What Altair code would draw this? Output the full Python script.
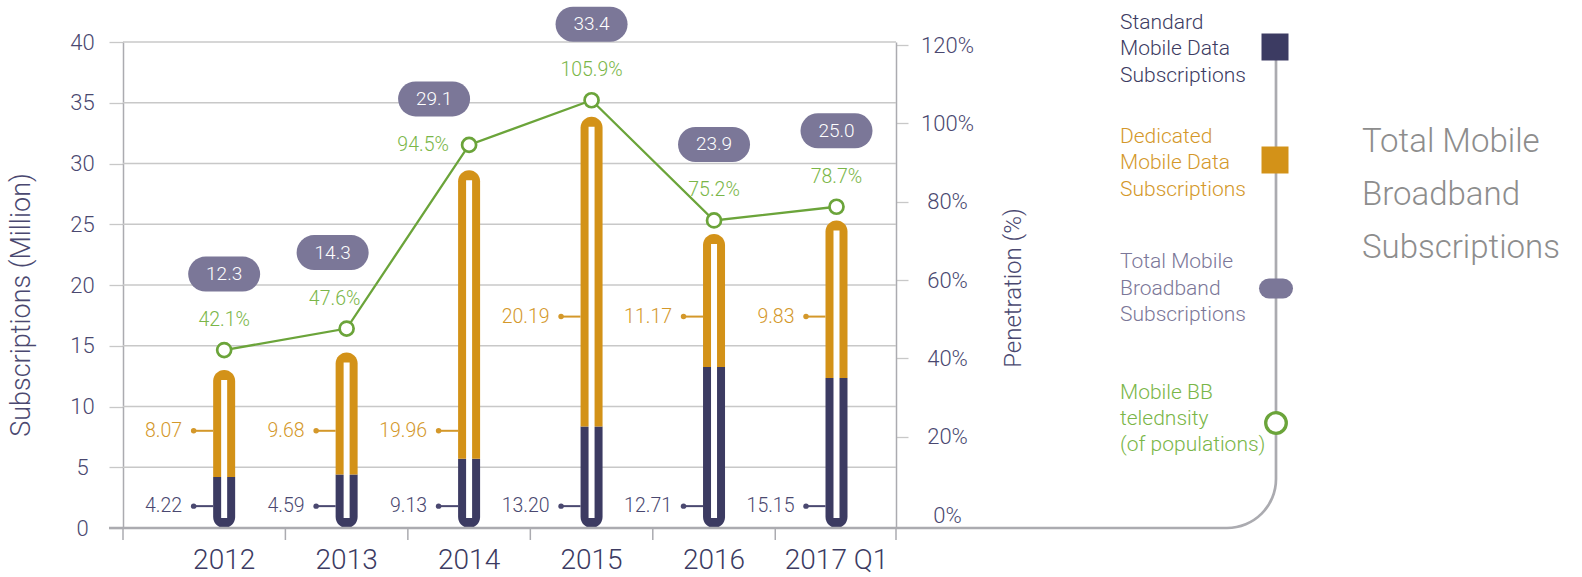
import math
import altair as alt
import pandas as pd

# ---------------- data ----------------
years = ["2012", "2013", "2014", "2015", "2016", "2017 Q1"]
standard = [4.22, 4.59, 9.13, 13.20, 12.71, 15.15]        # Standard mobile data subs (million)
dedicated = [8.07, 9.68, 19.96, 20.19, 11.17, 9.83]       # Dedicated mobile data subs (million)
total = [12.3, 14.3, 29.1, 33.4, 23.9, 25.0]              # Total mobile broadband subs (million)
penetration = [42.1, 47.6, 94.5, 105.9, 75.2, 78.7]       # Mobile BB teledensity (%)
# bar segments exactly as they are drawn in the picture (million)
drawn_split = [4.2, 4.4, 5.7, 8.35, 13.25, 12.35]
drawn_top = [13.0, 14.45, 29.45, 33.85, 24.2, 25.3]
# heights (million) at which the value call-outs sit
std_callout = [1.8, 1.8, 1.8, 1.8, 1.8, 1.8]
ded_callout = [8.0, 8.0, 8.0, 17.4, 17.4, 17.4]
left_ticks = [0, 5, 10, 15, 20, 25, 30, 35, 40]
right_ticks = [0, 20, 40, 60, 80, 100, 120]

legend_std = ["Standard", "Mobile Data", "Subscriptions"]
legend_ded = ["Dedicated", "Mobile Data", "Subscriptions"]
legend_tot = ["Total Mobile", "Broadband", "Subscriptions"]
legend_pen = ["Mobile BB", "telednsity", "(of populations)"]
big_title = ["Total Mobile", "Broadband", "Subscriptions"]

# ---------------- style / layout ----------------
FONT = "Roboto"
FW = 300
NAVY = "#3c3b62"
NAVY_TXT = "#4a4870"
ORANGE = "#d39218"
ORANGE_TXT = "#d4982a"
PILL = "#7b7798"
GREEN = "#6ba43a"
GREEN_TXT = "#7ab648"
GRID = "#c8c8c8"
AXIS_GRAY = "#ababb0"

LEFT, TOP, W, H = 123, 42, 1153, 486
X0, STEP = 220, 123.54          # pixel of first category, category step
AXR = 896 - LEFT                 # right axis position inside plot
xmin = -(X0 - LEFT) / STEP
xmax = (LEFT + W - X0) / STEP
# right scale: 0% at y=515, 120% at y=45 (page px)
r_px = (515 - 45) / 120.0
rmax = 120 + (45 - TOP) / r_px
rmin = -((TOP + H) - 515) / r_px

df = pd.DataFrame({
    "year": years,
    "idx": list(range(len(years))),
    "std": standard,
    "ded": dedicated,
    "total": total,
    "pct": penetration,
    "split": drawn_split,
    "top": drawn_top,
    "std_at": std_callout,
    "ded_at": ded_callout,
})
df["base"] = 0.0
df["pct_txt"] = [f"{v:.1f}%" for v in penetration]
df["tot_txt"] = [f"{v:.1f}" for v in total]

bounds = pd.DataFrame({"b": [i + 0.5 for i in range(len(years) - 1)]})
one = pd.DataFrame({"a": [0]})

xs = alt.Scale(domain=[xmin, xmax], nice=False, zero=False)
X = alt.X("idx:Q", scale=xs, axis=None)
yl = alt.Scale(domain=[0, 40], nice=False, zero=False)
yr = alt.Scale(domain=[rmin, rmax], nice=False, zero=False)

AX_L = alt.Axis(
    orient="left", values=left_ticks, title=None, grid=False,
    domain=True, domainColor=AXIS_GRAY, domainWidth=1.5,
    ticks=True, tickSize=14, tickColor=GRID, tickWidth=1.3,
    labelFontSize=22, labelColor=NAVY_TXT, labelAlign="center", labelFontWeight=FW,
    labelBaseline="middle", labelPadding=27, labelFont=FONT)
AX_R = alt.Axis(
    orient="right", offset=-(W - AXR), values=right_ticks, labelExpr="datum.value + '%'",
    title=None, grid=False, domain=True, domainColor=AXIS_GRAY, domainWidth=1.5,
    ticks=True, tickSize=12, tickColor=GRID, tickWidth=1.3,
    tickOpacity={"condition": {"test": "datum.value === 0", "value": 0}, "value": 1},
    labelFontSize=22, labelColor=NAVY_TXT, labelAlign="center", labelBaseline="middle",
    labelFontWeight=FW, labelPadding=39, labelFont=FONT)

def YL(field):
    return alt.Y(f"{field}:Q", scale=yl, axis=AX_L)

def YR(field):
    return alt.Y(f"{field}:Q", scale=yr, axis=AX_R)

base = alt.Chart(df)

# ---------------- left-scale group ----------------
grid = alt.Chart(pd.DataFrame({"v": left_ticks[1:]})).mark_rule(color=GRID, strokeWidth=1.3).encode(
    x=alt.value(0), x2=alt.value(AXR), y=YL("v"))

navy_bar = base.mark_bar(size=22, color=NAVY, cornerRadiusBottomLeft=11, cornerRadiusBottomRight=11).encode(
    x=X, y=YL("base"), y2="split:Q")
orange_bar = base.mark_bar(size=22, color=ORANGE, cornerRadiusTopLeft=11, cornerRadiusTopRight=11).encode(
    x=X, y=YL("split"), y2="top:Q")
stripe = base.mark_rule(color="white", strokeWidth=6, yOffset=-10, y2Offset=10).encode(
    x=X, y=YL("base"), y2="top:Q")

def callout(field, at, color):
    line = base.mark_rule(color=color, strokeWidth=2, xOffset=-30.5, x2Offset=-11).encode(
        x=X, x2="idx:Q", y=YL(at))
    dot = base.mark_circle(size=30, color=color, opacity=1, xOffset=-30.5).encode(x=X, y=YL(at))
    txt = base.mark_text(align="right", baseline="middle", dx=-42, fontSize=19.5, fontWeight=FW,
                         color=color).encode(
        x=X, y=YL(at), text=alt.Text(f"{field}:Q", format=".2f"))
    return [line, dot, txt]

cat_labels = base.mark_text(fontSize=28, fontWeight=FW, color=NAVY, baseline="middle").encode(
    x=X, y=alt.value(H + 33), text="year:N")

ticks_below = alt.Chart(bounds).mark_rule(color=AXIS_GRAY, strokeWidth=1.5).encode(
    x=alt.X("b:Q", scale=xs, axis=None), y=alt.value(H), y2=alt.value(H + 12))

deco = alt.Chart(one)
left_ext = deco.mark_rule(color=AXIS_GRAY, strokeWidth=1.5).encode(
    x=alt.value(0), y=alt.value(H), y2=alt.value(H + 12))
right_ext = deco.mark_rule(color=AXIS_GRAY, strokeWidth=1.5).encode(
    x=alt.value(AXR), y=alt.value(H), y2=alt.value(H + 12))
baseline = deco.mark_rule(color=AXIS_GRAY, strokeWidth=2.7).encode(
    x=alt.value(-14), x2=alt.value(W - 49), y=alt.value(H))
corner = deco.mark_arc(radius=50.35, radius2=47.65, theta=math.pi / 2, theta2=math.pi, color=AXIS_GRAY).encode(
    x=alt.value(W - 49), y=alt.value(H - 49))
vline = deco.mark_rule(color=AXIS_GRAY, strokeWidth=2.7).encode(
    x=alt.value(W), y=alt.value(5), y2=alt.value(H - 49))

sw_std = deco.mark_square(size=729, color=NAVY, opacity=1).encode(x=alt.value(W - 1), y=alt.value(5))
sw_ded = deco.mark_square(size=729, color=ORANGE, opacity=1).encode(x=alt.value(W - 1), y=alt.value(118))
sw_tot = deco.mark_rule(color=PILL, strokeWidth=20, strokeCap="round").encode(
    x=alt.value(W - 7), x2=alt.value(W + 7), y=alt.value(246.5))
sw_pen = deco.mark_point(shape="circle", size=424, fill="white", stroke=GREEN, strokeWidth=3.3,
                         opacity=1, fillOpacity=1).encode(x=alt.value(W), y=alt.value(381))

def legend_text(lines, y, color):
    return deco.mark_text(align="left", baseline="middle", lineHeight=26.3, fontSize=21,
                          fontWeight=FW, color=color).encode(
        x=alt.value(997), y=alt.value(y), text=alt.value(lines))

lt1 = legend_text(legend_std, -18.8, NAVY)
lt2 = legend_text(legend_ded, 95.2, ORANGE_TXT)
lt3 = legend_text(legend_tot, 220.3, PILL)
lt4 = legend_text(legend_pen, 350.5, GREEN_TXT)
big = deco.mark_text(align="left", baseline="middle", lineHeight=53, fontSize=33, fontWeight=FW,
                     color="#8d8d8d").encode(
    x=alt.value(1239), y=alt.value(100), text=alt.value(big_title))

ytitle_l = deco.mark_text(angle=270, fontSize=27, fontWeight=FW, color=NAVY_TXT, baseline="middle").encode(
    x=alt.value(22 - LEFT), y=alt.value(305 - TOP), text=alt.value("Subscriptions (Million)"))
ytitle_r = deco.mark_text(angle=270, fontSize=24, fontWeight=FW, color=NAVY_TXT, baseline="middle").encode(
    x=alt.value(1014 - LEFT), y=alt.value(288 - TOP), text=alt.value("Penetration (%)"))

left_group = alt.layer(
    grid, navy_bar, orange_bar, stripe,
    *callout("std", "std_at", NAVY_TXT), *callout("ded", "ded_at", ORANGE_TXT),
    cat_labels, ticks_below, left_ext, right_ext, baseline, corner, vline,
    sw_std, sw_ded, sw_tot, sw_pen, lt1, lt2, lt3, lt4, big, ytitle_l, ytitle_r,
)

# ---------------- right-scale group ----------------
line = base.mark_line(color=GREEN, strokeWidth=2.3).encode(x=X, y=YR("pct"))
pts = base.mark_point(shape="circle", size=196, fill="white", stroke=GREEN, strokeWidth=2.7,
                      opacity=1, fillOpacity=1).encode(x=X, y=YR("pct"))


def annotate(src, lbl_dx, lbl_dy, pill_dx, pill_dy):
    lbl = src.mark_text(dx=lbl_dx, dy=lbl_dy, fontSize=19.5, fontWeight=FW, color=GREEN_TXT,
                        baseline="middle").encode(x=X, y=YR("pct"), text="pct_txt:N")
    pil = src.mark_rule(color=PILL, strokeWidth=35, strokeCap="round",
                        xOffset=pill_dx - 18.5, x2Offset=pill_dx + 18.5,
                        yOffset=pill_dy, y2Offset=pill_dy).encode(
        x=X, x2="idx:Q", y=YR("pct"), y2="pct:Q")
    ptx = src.mark_text(dx=pill_dx, dy=pill_dy, fontSize=19, fontWeight=FW, color="white",
                        baseline="middle").encode(x=X, y=YR("pct"), text="tot_txt:N")
    return [lbl, pil, ptx]

# the 2013 and 2014 call-outs are nudged left of their points in the reference
regular = annotate(base.transform_filter("datum.idx != 1 && datum.idx != 2"), 0, -30, 0, -76)
nudged13 = annotate(base.transform_filter("datum.idx == 1"), -12, -30, -14, -76)
nudged14 = annotate(base.transform_filter("datum.idx == 2"), -46, 0, -35, -46)

right_group = alt.layer(line, pts, *regular, *nudged13, *nudged14)

chart = alt.layer(left_group, right_group).resolve_scale(y="independent").properties(
    width=W, height=H,
    autosize=alt.AutoSizeParams(type="none"),
    padding={"left": LEFT, "top": TOP, "right": 1582 - LEFT - W, "bottom": 577 - TOP - H},
    background="white",
).configure(font=FONT).configure_view(stroke=None)

chart.save("out.html", embed_options={"renderer": "svg", "actions": False})
